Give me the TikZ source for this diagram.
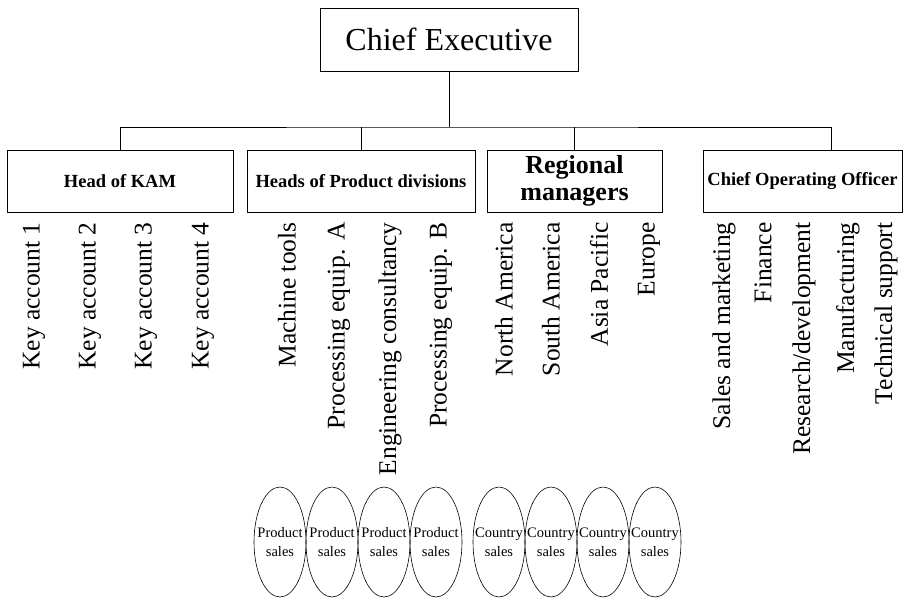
\documentclass[tikz,border=0pt]{standalone}
\usepackage{fontspec}
\setmainfont{Liberation Serif}
\usetikzlibrary{shapes.geometric}
\tikzset{
  headbox/.style={draw, minimum height=62pt, inner sep=0pt, font=\bfseries\fontsize{18.5}{20}\selectfont},
  unitlabel/.style={rotate=90, anchor=east, inner sep=0pt, font=\fontsize{25.5}{28}\selectfont},
  salesunit/.style={ellipse, draw, line width=0.6pt, minimum width=52pt, minimum height=110pt, inner xsep=-8pt, inner ysep=0pt, align=center, font=\fontsize{14.5}{19}\selectfont}
}

\begin{document}
\begin{tikzpicture}[x=1pt,y=-1pt,line width=0.9pt]
        \useasboundingbox (0,0) rectangle (906,598);
        \pgfmathsetmacro{\heady}{181}
        \pgfmathsetmacro{\labely}{222}
        \pgfmathsetmacro{\salesy}{542}
        \node[draw, minimum width=258pt, minimum height=63pt, font=\fontsize{32}{36}\selectfont] (chief) at (449,39.5) {Chief Executive};
        \node[headbox, minimum width=226pt] (kam) at (120,\heady) {Head of KAM};
        \node[headbox, minimum width=228pt] (prod) at (361,\heady) {Heads of Product divisions};
        \node[headbox, minimum width=175pt, align=center, font=\bfseries\fontsize{26}{27}\selectfont] (region) at (574.5,\heady) {Regional\\managers};
        \node[headbox, minimum width=199pt] (coo) at (802.5,\heady) {Chief Operating Officer};
        \coordinate (fork) at (449,127);
        \coordinate (cooin) at (831,150);
        \draw (chief.south) -- (fork);
        \draw (kam.north) |- (fork) -| (cooin);
        \draw (prod.north) -- (prod.north |- fork);
        \draw (region.north) -- (region.north |- fork);
        \foreach \x/\txt [count=\i] in {34/Key account 1, 90/Key account 2, 146/Key account 3, 203/Key account 4}
          \node[unitlabel] (acct\i) at (\x,\labely) {\txt};
        \foreach \x/\txt [count=\i] in {287/Machine tools, 339/Processing equip. A, 390/Engineering consultancy, 441/Processing equip. B}
          \node[unitlabel] (div\i) at (\x,\labely) {\txt};
        \foreach \x/\txt [count=\i] in {504/North America, 551/South America, 599/Asia Pacific, 649/Europe}
          \node[unitlabel] (reg\i) at (\x,\labely) {\txt};
        \foreach \x/\txt [count=\i] in {724/Sales and marketing, 763/Finance, 804/{Research/development}, 848/Manufacturing, 886/Technical support}
          \node[unitlabel] (func\i) at (\x,\labely) {\txt};
        \foreach \x [count=\i] in {280,332,384,436}
          \node[salesunit] (psales\i) at (\x,\salesy) {Product\\sales};
        \foreach \x [count=\i] in {499,551,603,655}
          \node[salesunit] (csales\i) at (\x,\salesy) {Country\\sales};
      \end{tikzpicture}
\end{document}
